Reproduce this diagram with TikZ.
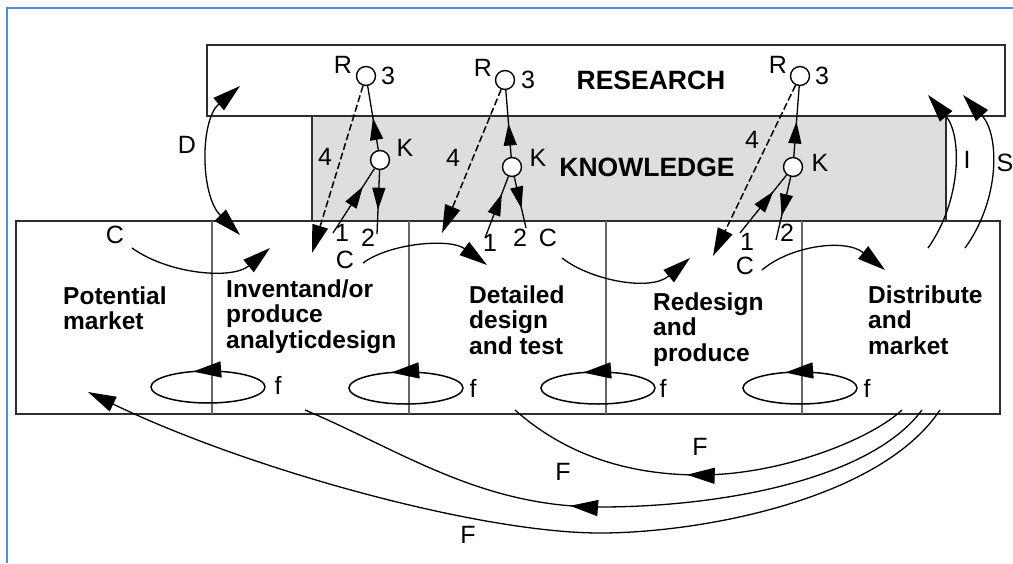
\documentclass[tikz,border=0pt]{standalone}
\usepackage{fontspec}
\setmainfont{Liberation Sans}
\usetikzlibrary{arrows.meta,decorations.markings}
\definecolor{framecol}{RGB}{80,140,215}
\definecolor{kfill}{RGB}{222,222,222}
\definecolor{edgecol}{RGB}{45,45,45}
\tikzset{
  tipL/.tip={Triangle[length=28pt,width=16pt]},
  tipS/.tip={Triangle[length=22pt,width=13pt]},
  conn/.style={line width=1.3pt, draw=black},
  dashfour/.style={line width=1.5pt, dash pattern=on 7pt off 3pt},
  midL/.style={postaction={decorate}, decoration={markings, mark=at position #1 with {\arrow{tipL}}}},
  midS/.style={postaction={decorate}, decoration={markings, mark=at position #1 with {\arrow{tipS}}}},
  circ/.style={circle, draw=black, line width=1.4pt, fill=white, minimum size=19pt, inner sep=0pt},
  lbl/.style={inner sep=0pt, font=\fontsize{25}{27}\selectfont},
  stage/.style={inner sep=0pt, anchor=north west, align=left, font=\bfseries\fontsize{24.5}{25.5}\selectfont},
  area/.style={inner sep=0pt, anchor=base, font=\bfseries\fontsize{26.5}{28}\selectfont},
  boxline/.style={draw=edgecol, line width=1.6pt},
  divider/.style={draw=black!60, line width=1.1pt},
}
\begin{document}
\begin{tikzpicture}[x=1pt,y=-1pt]
\useasboundingbox (0,0) rectangle (1013,563);
% frame
\draw[framecol, line width=1.5pt] (7,563) -- (7,8) -- (1013,8);
% boxes
\draw[boxline] (207,45) rectangle (1005,116);
\draw[boxline, fill=kfill] (312,116) rectangle (946,221);
\draw[boxline] (16,221) rectangle (1000,414);
\foreach \x in {212,409,606,802} \draw[divider] (\x,221) -- (\x,414);

% area titles
\node[area] (research) at (651,89) {RESEARCH};
\node[area] (knowledge) at (647,176) {KNOWLEDGE};

% stage texts
\node[stage] (pm) at (63,286.5) {Potential\\market};
\node[stage] (inv) at (226,279.5) {Inventand/or\\produce\\analyticdesign};
\node[stage] (det) at (469,285.5) {Detailed\\design\\and test};
\node[stage] (red) at (653,292.5) {Redesign\\and\\produce};
\node[stage] (dist) at (868,285.5) {Distribute\\and\\market};

% circles
\node[circ] (R1) at (366,76) {};
\node[circ] (R2) at (505,80) {};
\node[circ] (R3) at (800,76) {};
\node[circ] (K1) at (380,160) {};
\node[circ] (K2) at (512,167) {};
\node[circ] (K3) at (793,167) {};

% free ends
\coordinate (k1e) at (377,234);
\coordinate (k2e) at (526,228);
\coordinate (k3e) at (776,240);
\coordinate (o1) at (333,233);
\coordinate (o2) at (485,238);
\coordinate (o3) at (740,233);
\coordinate (d1) at (312,253);
\coordinate (d2) at (442,233);
\coordinate (d3) at (713,256);

% K -> R
\draw[conn, midS=0.5] (K1) -- (R1);
\draw[conn, midS=0.5] (K2) -- (R2);
\draw[conn, midS=0.5] (K3) -- (R3);
% K -> 2
\draw[conn, midS=0.62] (K1) -- (k1e);
\draw[conn, midS=0.62] (K2) -- (k2e);
\draw[conn, midS=0.62] (K3) -- (k3e);
% 1 -> K
\draw[conn, midS=0.72] (o1) -- (K1);
\draw[conn, midS=0.72] (o2) -- (K2);
\draw[conn, midS=0.72] (o3) -- (K3);
% 4 dashed
\draw[conn, dashfour, -tipL] (R1) -- (d1);
\draw[conn, dashfour, -tipL] (R2) -- (d2);
\draw[conn, dashfour, -tipL] (R3) -- (d3);

% small labels
\node[lbl] (lR1) at (343,65) {R};
\node[lbl] (lR2) at (483,68) {R};
\node[lbl] (lR3) at (778,65) {R};
\node[lbl] (l31) at (388,76) {3};
\node[lbl] (l32) at (528,80) {3};
\node[lbl] (l33) at (822,76) {3};
\node[lbl] (lK1) at (405,148) {K};
\node[lbl] (lK2) at (538,158) {K};
\node[lbl] (lK3) at (820,163) {K};
\node[lbl] (l41) at (325,157) {4};
\node[lbl] (l42) at (453,158) {4};
\node[lbl] (l43) at (752,140) {4};
\node[lbl] (l11) at (342,233) {1};
\node[lbl] (l12) at (490,243) {1};
\node[lbl] (l13) at (747,242) {1};
\node[lbl] (l21) at (368,238) {2};
\node[lbl] (l22) at (520,238) {2};
\node[lbl] (l23) at (787,233) {2};
\node[lbl] (lC0) at (115,235) {C};
\node[lbl] (lC1) at (345,260) {C};
\node[lbl] (lC2) at (548,238) {C};
\node[lbl] (lC3) at (745,266) {C};
\node[lbl] (lD) at (187,145) {D};
\node[lbl] (lI) at (967,160) {I};
\node[lbl] (lS) at (1005,163) {S};
\node[lbl] (lf1) at (278,385) {f};
\node[lbl] (lf2) at (473,388) {f};
\node[lbl] (lf3) at (663,388) {f};
\node[lbl] (lf4) at (867,388) {f};
\node[lbl] (lFa) at (700,447) {F};
\node[lbl] (lFb) at (563,472) {F};
\node[lbl] (lFc) at (468,535) {F};

% C arrows
\coordinate (c0s) at (132,248); \coordinate (c0e) at (270,248);
\coordinate (c1s) at (363,263); \coordinate (c1e) at (487,265);
\coordinate (c2s) at (562,258); \coordinate (c2e) at (690,258);
\coordinate (c3s) at (762,270); \coordinate (c3e) at (885,270);
\draw[conn, -tipL] (c0s) .. controls (168,274) and (232,280) .. (c0e);
\draw[conn, -tipL] (c1s) .. controls (390,243) and (450,238) .. (c1e);
\draw[conn, -tipL] (c2s) .. controls (590,280) and (650,292) .. (c2e);
\draw[conn, -tipL] (c3s) .. controls (790,246) and (845,238) .. (c3e);

% D, I, S arrows
\coordinate (dT) at (240,86); \coordinate (dB) at (240,235);
\draw[conn, tipL-tipL] (dT) .. controls (200,120) and (200,195) .. (dB);
\coordinate (iS) at (928,248); \coordinate (iE) at (928,95);
\draw[conn, -tipL] (iS) .. controls (962,200) and (962,135) .. (iE);
\coordinate (sS) at (965,248); \coordinate (sE) at (963,95);
\draw[conn, -tipL] (sS) .. controls (1000,200) and (1000,135) .. (sE);

% f loops
\coordinate (e1) at (208,387);
\coordinate (e2) at (406,388);
\coordinate (e3) at (598,388);
\coordinate (e4) at (800,388);
\foreach \e in {e1,e2,e3,e4}
  \draw[conn, line width=1.5pt, midL=0.31] (\e) ++(57,0) arc[start angle=0, end angle=-360, x radius=57, y radius=16];

% F arrows
\coordinate (fa) at (902,410); \coordinate (fae) at (515,410);
\coordinate (fb) at (922,410); \coordinate (fbe) at (305,410);
\coordinate (fc) at (940,410); \coordinate (fce) at (88,392);
\draw[conn, midL=0.55] (fa) .. controls (870,440) and (780,475) .. (700,475) .. controls (620,475) and (560,450) .. (fae);
\draw[conn, midL=0.57] (fb) .. controls (870,480) and (720,507) .. (600,507) .. controls (480,507) and (400,450) .. (fbe);
\draw[conn, -tipL] (fc) .. controls (880,500) and (700,533) .. (600,533) .. controls (480,533) and (250,470) .. (fce);
\end{tikzpicture}
\end{document}
